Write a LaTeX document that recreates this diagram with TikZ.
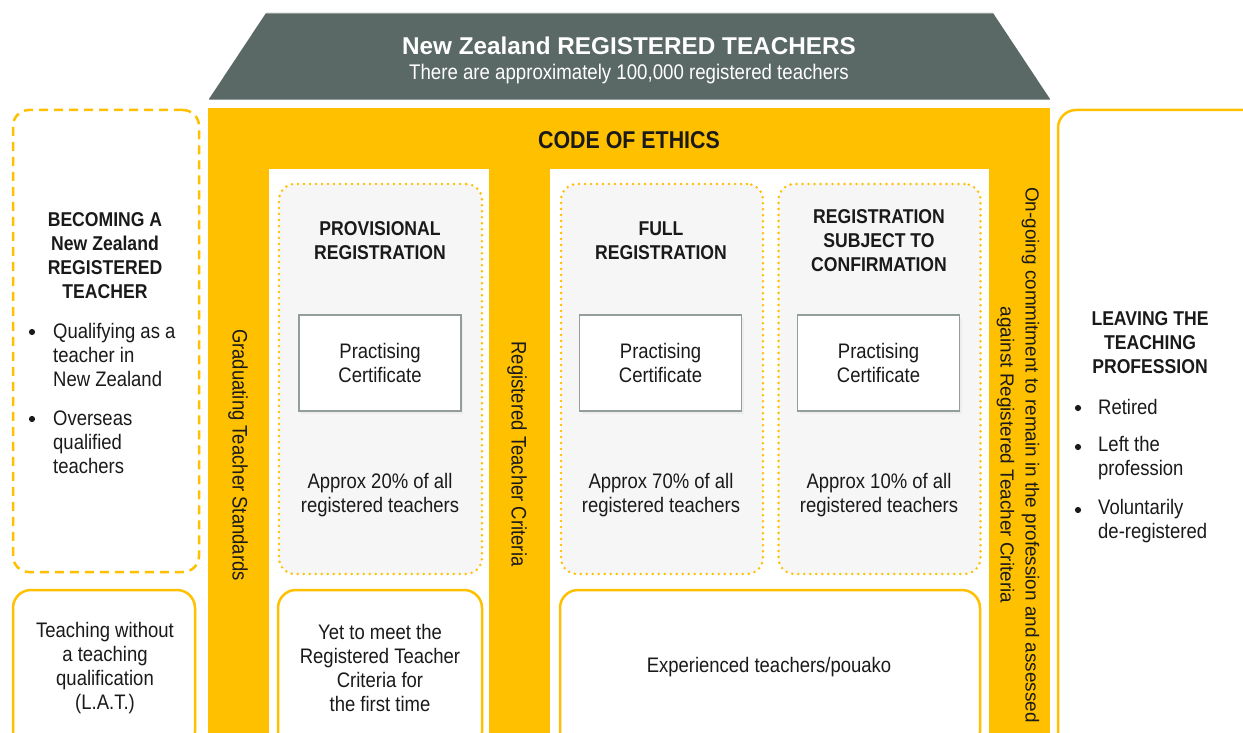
\documentclass[tikz,border=0pt]{standalone}
\usepackage{fontspec}
\setmainfont{Liberation Sans}[FakeStretch=0.88]
\newfontfamily\widefont{Liberation Sans}
\usetikzlibrary{shadows}
\definecolor{ygold}{HTML}{FFC000}
\definecolor{roofc}{HTML}{5A6965}
\definecolor{roofedge}{HTML}{8F9B98}
\definecolor{panelgray}{HTML}{F6F6F6}
\definecolor{certline}{HTML}{939E9C}
\definecolor{ink}{HTML}{1A1A1A}
\tikzset{
  body/.style={font=\fontsize{21}{24}\selectfont, text=ink, align=center, inner sep=0pt},
  bodyleft/.style={font=\fontsize{21}{24}\selectfont, text=ink, align=left, inner sep=0pt, anchor=west},
  head/.style={font=\bfseries\fontsize{20}{24}\selectfont, text=ink, align=center, inner sep=0pt},
  bul/.style={circle, fill=ink, inner sep=0pt, minimum size=6.2pt},
  dotbox/.style={draw=ygold, fill=panelgray, line width=2.8pt, dash pattern=on 0pt off 6pt, line cap=round, rounded corners=16pt, inner sep=0pt},
  dashbox/.style={draw=ygold, line width=2.5pt, dash pattern=on 9pt off 6pt, rounded corners=16pt, inner sep=0pt},
  solidbox/.style={draw=ygold, fill=white, line width=2.5pt, rounded corners=18pt, inner sep=0pt},
  certbox/.style={draw=certline, fill=white, line width=1.2pt, inner sep=0pt,
    minimum width=162pt, minimum height=96pt,
    drop shadow={opacity=0.07, shadow xshift=2pt, shadow yshift=-3pt}},
  vtext/.style={font=\fontsize{21}{24}\selectfont, text=ink, rotate=-90, inner sep=0pt}
}
\begin{document}
\begin{tikzpicture}[x=1pt,y=-1pt]
\useasboundingbox (0,0) rectangle (1243,733);
\clip (0,0) rectangle (1243,733);
\fill[white] (0,0) rectangle (1243,733);
% roof
\fill[roofc] (266,13) -- (993,13) -- (1050,99) -- (209,99) -- cycle;
\draw[roofedge, line width=0.8pt] (266,13) -- (993,13);
\draw[roofedge, line width=0.8pt] (209,99) -- (1050,99);
\node[font=\widefont\bfseries\fontsize{24.3}{28}\selectfont, text=white, inner sep=0pt] (title) at (629,45.5) {New Zealand REGISTERED TEACHERS};
\node[font=\fontsize{21.2}{24}\selectfont, text=white, inner sep=0pt] (subtitle) at (629,74) {There are approximately 100,000 registered teachers};
% body
\fill[ygold] (208,108) rectangle (1050,745);
\fill[white] (269,169) rectangle (489,745);
\fill[white] (550,169) rectangle (989,745);
\node[font=\bfseries\fontsize{24.3}{28}\selectfont, text=ink, inner sep=0pt] (code) at (629,140) {CODE OF ETHICS};
% dotted registration boxes
\node[dotbox, minimum width=203pt, minimum height=390pt] (prov) at (380.5,379) {};
\node[dotbox, minimum width=202pt, minimum height=390pt] (full) at (662,379) {};
\node[dotbox, minimum width=202pt, minimum height=390pt] (conf) at (879.5,379) {};
\node[head] (provh) at (380,241) {PROVISIONAL\\REGISTRATION};
\node[head] (fullh) at (661,241) {FULL\\REGISTRATION};
\node[head] (confh) at (879,241) {REGISTRATION\\SUBJECT TO\\CONFIRMATION};
\node[certbox] (provc) at (380,363) {};
\node[certbox] (fullc) at (660.5,363) {};
\node[certbox] (confc) at (878.5,363) {};
\node[body] at (provc) {Practising\\Certificate};
\node[body] at (fullc) {Practising\\Certificate};
\node[body] at (confc) {Practising\\Certificate};
\node[body] (provp) at (380,495) {Approx 20\% of all\\registered teachers};
\node[body] (fullp) at (661,495) {Approx 70\% of all\\registered teachers};
\node[body] (confp) at (879,495) {Approx 10\% of all\\registered teachers};
% vertical texts
\node[vtext] (gts) at (238,455) {Graduating Teacher Standards};
\node[vtext] (rtc) at (517,454) {Registered Teacher Criteria};
\node[font=\widefont\fontsize{18.9}{25}\selectfont, text=ink, rotate=-90, align=center, inner sep=0pt] (ongo) at (1018,455) {On-going commitment to remain in the profession and assessed\\against Registered Teacher Criteria};
% left column
\node[dashbox, minimum width=186pt, minimum height=462pt] (become) at (106,341) {};
\node[head] (becomeh) at (105,256) {BECOMING A\\New Zealand\\REGISTERED\\TEACHER};
\node[bul] (b1) at (32,332) {};
\node[bodyleft] (qual) at (53,355) {Qualifying as a\\teacher in\\New Zealand};
\node[bul] (b2) at (32,419) {};
\node[bodyleft] (over) at (53,442) {Overseas\\qualified\\teachers};
% bottom row
\node[solidbox, minimum width=182pt, minimum height=160pt] (lat) at (104,670) {};
\node[body] (latt) at (105,668) {Teaching without\\a teaching\\qualification\\(L.A.T.)};
\node[solidbox, minimum width=204pt, minimum height=160pt] (yet) at (380,670) {};
\node[body] (yett) at (380,668) {Yet to meet the\\Registered Teacher\\Criteria for\\the first time};
\node[solidbox, minimum width=420pt, minimum height=160pt] (exp) at (770,670) {};
\node[body] (expt) at (769,667) {Experienced teachers/pouako};
% right column
\node[solidbox, minimum width=210pt, minimum height=650pt] (leave) at (1163,435) {};
\node[head] (leaveh) at (1150,343) {LEAVING THE\\TEACHING\\PROFESSION};
\node[bul] (b3) at (1078,408) {};
\node[bodyleft] (ret) at (1098,407) {Retired};
\node[bul] (b4) at (1078,447) {};
\node[bodyleft] (left) at (1098,458) {Left the\\profession};
\node[bul] (b5) at (1078,510) {};
\node[bodyleft] (vol) at (1098,521) {Voluntarily\\de-registered};
\end{tikzpicture}
\end{document}
